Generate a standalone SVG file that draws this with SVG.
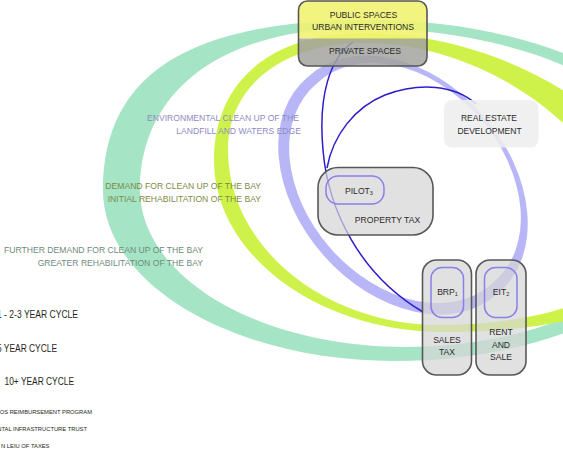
<svg xmlns="http://www.w3.org/2000/svg" width="563" height="450" viewBox="0 0 563 450">
<style>
text{font-family:"Liberation Sans",Arial,sans-serif;}
.lbl{font-size:8.6px;text-anchor:end;}
.nt{font-size:8.6px;fill:#2b2b2b;text-anchor:middle;}
.leg{font-size:10px;fill:#231f20;text-anchor:end;}
.sm{font-size:5.8px;fill:#231f20;text-anchor:end;}
.box{fill:#d6d6d6;fill-opacity:0.72;stroke:#575757;stroke-width:1.6;}
.inner{fill:none;stroke:#8b7fe8;stroke-width:1.5;}
.wire{fill:none;stroke:#2c1dcc;stroke-width:1.5;}
.sub{font-size:5.5px;}
</style>
<defs>
<clipPath id="topclip"><rect x="298.5" y="1" width="128.5" height="65" rx="9"/></clipPath>
</defs>
<rect width="563" height="450" fill="#ffffff"/>
<g id="cycles">
<path id="cycle-10" fill="#a5e4c5" fill-rule="evenodd" d="M103,190 C103,74.4 188.4,20 370,20 C552.3,20 700,98.3 700,195 C700,286.7 563.4,361 395,361 C233.7,361 103,284.4 103,190 Z M140,190 C140,89.6 223.6,28 360,28 C536.7,28 680,101.4 680,192 C680,277.6 556.9,347 405,347 C258.6,347 140,276.7 140,190 Z"/>
<path id="cycle-5" fill="#cff24a" fill-rule="evenodd" d="M214,160 C214,81.3 271.4,33 365,33 C522.5,33 680,144 680,255 C680,297.4 574.3,332 445,332 C318,332 214,254.6 214,160 Z M228,150 C228,85.8 282.8,43 365,43 C497.5,43 630,149 630,255 C630,293.5 544.5,325 440,325 C323.4,325 228,246 228,150 Z"/>
<path id="cycle-1" fill="#b3b0f6" fill-opacity="0.92" fill-rule="evenodd" d="M307.8,77 A144,104 48.6 1 1 498.2,293 A144,104 48.6 1 1 307.8,77 Z M317.1,83.25 A133,96.5 48.6 1 1 492.9,282.75 A133,96.5 48.6 1 1 317.1,83.25 Z"/>
</g>
<g id="labels">
<text class="lbl" x="299" y="121" fill="#8f8bc2">ENVIRONMENTAL CLEAN UP OF THE</text>
<text class="lbl" x="301" y="133.5" fill="#8f8bc2">LANDFILL AND WATERS EDGE</text>
<text class="lbl" x="261" y="189" fill="#7d8b45">DEMAND FOR CLEAN UP OF THE BAY</text>
<text class="lbl" x="261" y="201.5" fill="#7d8b45">INITIAL REHABILITATION OF THE BAY</text>
<text class="lbl" x="203" y="253" fill="#6f8a7c">FURTHER DEMAND FOR CLEAN UP OF THE BAY</text>
<text class="lbl" x="203" y="266" fill="#6f8a7c">GREATER REHABILITATION OF THE BAY</text>
</g>
<g id="legend">
<text class="leg" x="78" y="318" textLength="81" lengthAdjust="spacingAndGlyphs">1 - 2-3 YEAR CYCLE</text>
<text class="leg" x="57" y="352" textLength="60" lengthAdjust="spacingAndGlyphs">5 YEAR CYCLE</text>
<text class="leg" x="74" y="385" textLength="69.5" lengthAdjust="spacingAndGlyphs">10+ YEAR CYCLE</text>
<text class="sm" x="92" y="414">OS REIMBURSEMENT PROGRAM</text>
<text class="sm" x="87" y="431">NTAL INFRASTRUCTURE TRUST</text>
<text class="sm" x="49.5" y="447.5">N LEIU OF TAXES</text>
</g>
<g id="connectors">
<path class="wire" d="M353,42 C330,58 318,95 323,150 C328,210 360,275 423,312"/>
<path class="wire" d="M476,104 C455,85 420,82 385,95 C355,107 333,135 327,168"/>
</g>
<g id="spaces">
<g clip-path="url(#topclip)">
<rect x="298" y="0" width="130" height="38.5" fill="#f1f36e" fill-opacity="0.88"/>
<rect x="298" y="38.5" width="130" height="28" fill="#a3a3a0" fill-opacity="0.85"/>
</g>
<rect x="298.5" y="1" width="128.5" height="65" rx="9" fill="none" stroke="#575757" stroke-width="1.6"/>
<text class="nt" x="363.5" y="17.7">PUBLIC SPACES</text>
<text class="nt" x="363" y="29.5">URBAN INTERVENTIONS</text>
<text class="nt" x="365" y="54.3">PRIVATE SPACES</text>
</g>
<g id="real-estate">
<rect x="444" y="100" width="94.5" height="47.5" rx="8" fill="#eeeeee" fill-opacity="0.88"/>
<text class="nt" x="489" y="121" style="font-size:8.5px">REAL ESTATE</text>
<text class="nt" x="489.5" y="133.5" style="font-size:8.5px">DEVELOPMENT</text>
</g>
<g id="property-tax">
<rect class="box" x="318" y="167.5" width="115" height="67.5" rx="20"/>
<rect class="inner" x="326" y="176" width="58" height="28" rx="12"/>
<text x="345" y="193.5" style="font-size:8.6px" fill="#2b2b2b">PILOT<tspan class="sub" dy="1">3</tspan></text>
<text class="nt" x="387.5" y="223">PROPERTY TAX</text>
</g>
<g id="sales-tax">
<rect class="box" x="422.5" y="260" width="49" height="115" rx="14"/>
<rect class="inner" x="431" y="267.5" width="32.5" height="50" rx="11"/>
<text x="447.5" y="295" style="font-size:8.6px" fill="#2b2b2b" text-anchor="middle">BRP<tspan class="sub" dy="1">1</tspan></text>
<text class="nt" x="447" y="342.5">SALES</text>
<text class="nt" x="447" y="355">TAX</text>
</g>
<g id="rent-sale">
<rect class="box" x="476" y="260" width="50" height="115" rx="14"/>
<rect class="inner" x="484.5" y="267.5" width="32.5" height="50" rx="11"/>
<text x="501" y="295" style="font-size:8.6px" fill="#2b2b2b" text-anchor="middle">EIT<tspan class="sub" dy="1">2</tspan></text>
<text class="nt" x="501" y="334.5">RENT</text>
<text class="nt" x="501" y="347.5">AND</text>
<text class="nt" x="501" y="360">SALE</text>
</g>
</svg>
